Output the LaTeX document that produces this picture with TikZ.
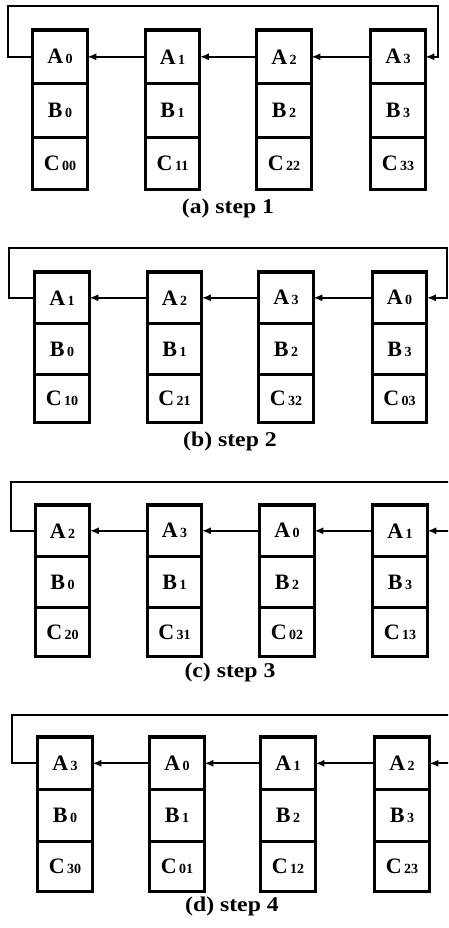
\documentclass[tikz,border=0pt]{standalone}
\usepackage{fontspec}
\setmainfont{Liberation Serif}
\newfontfamily\capfont[FakeStretch=1.13]{Liberation Serif}
\usetikzlibrary{arrows.meta}
\newcommand{\dg}[1]{\hspace{2.5pt}{\fontsize{14}{14}\selectfont #1}}
\begin{document}
\begin{tikzpicture}[x=1pt,y=-1pt,
  cell/.style={draw, line width=1.6pt, minimum width=53pt, minimum height=#1, inner sep=0pt,
               font=\fontsize{22}{22}\selectfont\bfseries, anchor=north},
  frame/.style={draw, line width=3.2pt},
  conn/.style={line width=2pt, line join=miter, -{Latex[length=9pt,width=7pt]}},
  captext/.style={font=\capfont\fontsize{21}{21}\selectfont\bfseries, inner sep=0pt}]
\useasboundingbox (0,0) rectangle (448,928);
\clip (0,0) rectangle (448,928);

% ---------- (a) step 1
\foreach \i/\x/\a/\b/\c in {1/60/0/0/00, 2/172.5/1/1/11, 3/284/2/2/22, 4/398/3/3/33} {
  \node[cell=52pt] (aA\i) at (\x,30) {A\dg{\a}};
  \node[cell=52pt] (aB\i) at (aA\i.south) {B\dg{\b}};
  \node[cell=51pt] (aC\i) at (aB\i.south) {C\dg{\c}};
  \draw[frame] (aA\i.north west) rectangle (aC\i.south east);
}
\draw[conn] (aA2.west) -- (aA1.east);
\draw[conn] (aA3.west) -- (aA2.east);
\draw[conn] (aA4.west) -- (aA3.east);
\coordinate (aL) at (8,6);
\coordinate (aR) at (438,6);
\draw[conn] (aA1.west) -| (aL) -- (aR) |- (aA4.east);
\node[captext] (capa) at (228,208) {(a) step 1};

% ---------- (b) step 2
\foreach \i/\x/\a/\b/\c in {1/62/1/0/10, 2/174.5/2/1/21, 3/286/3/2/32, 4/399.5/0/3/03} {
  \node[cell=50pt] (bA\i) at (\x,272) {A\dg{\a}};
  \node[cell=49pt] (bB\i) at (bA\i.south) {B\dg{\b}};
  \node[cell=47pt] (bC\i) at (bB\i.south) {C\dg{\c}};
  \draw[frame] (bA\i.north west) rectangle (bC\i.south east);
}
\draw[conn] (bA2.west) -- (bA1.east);
\draw[conn] (bA3.west) -- (bA2.east);
\draw[conn] (bA4.west) -- (bA3.east);
\coordinate (bL) at (9,248);
\coordinate (bR) at (447,248);
\draw[conn] (bA1.west) -| (bL) -- (bR) |- (bA4.east);
\node[captext] (capb) at (230,441) {(b) step 2};

% ---------- (c) step 3
\foreach \i/\x/\a/\b/\c in {1/62.5/2/0/20, 2/174.5/3/1/31, 3/287/0/2/02, 4/400/1/3/13} {
  \node[cell=50pt] (cA\i) at (\x,505) {A\dg{\a}};
  \node[cell=49pt] (cB\i) at (cA\i.south) {B\dg{\b}};
  \node[cell=48pt] (cC\i) at (cB\i.south) {C\dg{\c}};
  \draw[frame] (cA\i.north west) rectangle (cC\i.south east);
}
\draw[conn] (cA2.west) -- (cA1.east);
\draw[conn] (cA3.west) -- (cA2.east);
\draw[conn] (cA4.west) -- (cA3.east);
\coordinate (cL) at (11,482);
\coordinate (cR) at (452,482);
\draw[conn] (cA1.west) -| (cL) -- (cR) |- (cA4.east);
\node[captext] (capc) at (230,672) {(c) step 3};

% ---------- (d) step 4
\foreach \i/\x/\a/\b/\c in {1/65/3/0/30, 2/177/0/1/01, 3/288/1/2/12, 4/402/2/3/23} {
  \node[cell=51pt] (dA\i) at (\x,737) {A\dg{\a}};
  \node[cell=50pt] (dB\i) at (dA\i.south) {B\dg{\b}};
  \node[cell=49pt] (dC\i) at (dB\i.south) {C\dg{\c}};
  \draw[frame] (dA\i.north west) rectangle (dC\i.south east);
}
\draw[conn] (dA2.west) -- (dA1.east);
\draw[conn] (dA3.west) -- (dA2.east);
\draw[conn] (dA4.west) -- (dA3.east);
\coordinate (dL) at (12,715);
\coordinate (dR) at (452,715);
\draw[conn] (dA1.west) -| (dL) -- (dR) |- (dA4.east);
\node[captext] (capd) at (232,906) {(d) step 4};
\end{tikzpicture}
\end{document}
